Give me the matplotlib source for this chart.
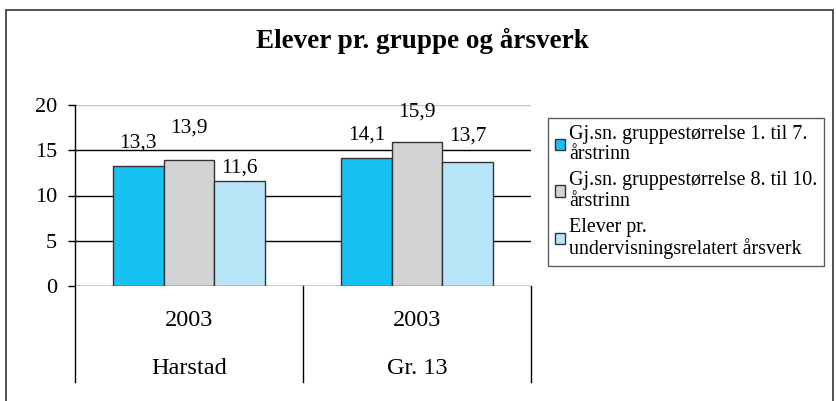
import numpy as np
import matplotlib
matplotlib.use("Agg")
from matplotlib import pyplot as plt
from matplotlib.patches import Rectangle

# data
years = ["2003", "2003"]
places = ["Harstad", "Gr. 13"]
series_names = [
    "Gj.sn. gruppestørrelse 1. til 7.\nårstrinn",
    "Gj.sn. gruppestørrelse 8. til 10.\nårstrinn",
    "Elever pr.\nundervisningsrelatert årsverk",
]
grade_1_7 = [13.3, 14.1]
grade_8_10 = [13.9, 15.9]
per_man_year = [11.6, 13.7]
y_ticks = [0, 5, 10, 15, 20]

colors = ["#16C1F1", "#D2D3D5", "#B9E5F8"]
edge = "#333333"
# how far each value label sits above its bar (pixels), per series
label_lift = [[23, 23], [32, 30], [13, 26]]

plt.rcParams["font.family"] = ["Liberation Serif", "DejaVu Serif"]

fig = plt.figure(figsize=(8.37, 4.01), dpi=100)
ax = fig.add_axes([75 / 837, 1 - 286 / 401, 456 / 837, 181 / 401])

# outer frame
fig.patches.append(Rectangle((6 / 837, -0.1), 827 / 837, 1.1 - 10 / 401,
                             transform=fig.transFigure, fill=False,
                             edgecolor="#333333", linewidth=1.2))

fig.text(422 / 837, 1 - 41 / 401, "Elever pr. gruppe og årsverk",
         ha="center", va="center", fontsize=19.5, fontweight="bold")

x = np.arange(len(places))
width = 0.222
all_series = [grade_1_7, grade_8_10, per_man_year]
for i, vals in enumerate(all_series):
    bars = ax.bar(x + (i - 1) * width, vals, width, color=colors[i],
                  edgecolor=edge, linewidth=1, label=series_names[i], zorder=3)
    for j, (b, v) in enumerate(zip(bars, vals)):
        ax.annotate(f"{v:.1f}".replace(".", ","),
                    (b.get_x() + b.get_width() / 2, v),
                    xytext=(0, label_lift[i][j] * 0.72), textcoords="offset points",
                    ha="center", va="center", fontsize=15.5)

ax.set_xlim(-0.5, 1.5)
ax.set_ylim(0, 20)
ax.set_yticks(y_ticks)
ax.tick_params(axis="y", labelsize=16, length=5, width=1, pad=8)
ax.set_xticks([])
for t in y_ticks:
    ax.axhline(t, color="#C8C8C8" if t == 20 else "black", linewidth=1, zorder=1)

for s in ["top", "right", "bottom", "left"]:
    ax.spines[s].set_visible(False)

# category axis below the plot
sep_bottom = -(382 - 286) / 181
for xs in [0, 0.5, 1]:
    ax.plot([xs, xs], [1, sep_bottom] if xs == 0 else [0, sep_bottom],
            transform=ax.transAxes, color="black", linewidth=1, clip_on=False)
for i in range(len(places)):
    ax.text(x[i], -(321 - 286) / 181 * 20, years[i], ha="center", va="center",
            fontsize=17.5)
    ax.text(x[i], -(368 - 286) / 181 * 20, places[i], ha="center", va="center",
            fontsize=17.5)

leg = fig.legend(loc="upper left", bbox_to_anchor=(548 / 837, 1 - 118 / 401),
                 fontsize=14.4, frameon=True, fancybox=False, edgecolor=edge,
                 handlelength=0.5, handleheight=0.5, handletextpad=0.2,
                 borderpad=0.35, labelspacing=0.35, borderaxespad=0)
leg.get_frame().set_linewidth(1)
for t in leg.get_texts():
    t.set_linespacing(1.1)

plt.savefig("out.png", dpi=100)
